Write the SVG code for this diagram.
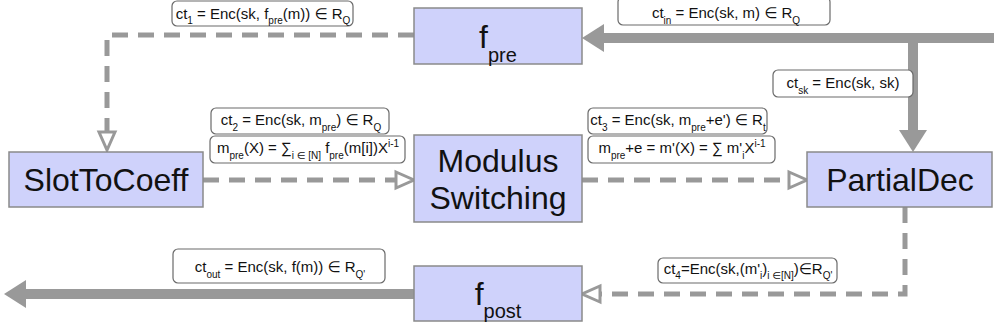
<svg xmlns="http://www.w3.org/2000/svg" width="994" height="332" viewBox="0 0 994 332">
<style>
.node{fill:#cfd2fb;stroke:#8a8a8a;stroke-width:1.5}
.nt{font-family:"Liberation Sans",Arial,sans-serif;font-size:32px;fill:#111;text-anchor:middle}
.lb{fill:#fff;stroke:#6a6a6a;stroke-width:1.2}
.lt{font-family:"Liberation Sans",Arial,"DejaVu Sans",sans-serif;font-size:15px;fill:#111;text-anchor:middle}
.sub{font-size:10px}
.dash{fill:none;stroke:#999;stroke-width:5;stroke-dasharray:16 10}
.thick{fill:none;stroke:#999;stroke-width:10}
</style>
<defs>
<marker id="hollow" markerUnits="userSpaceOnUse" markerWidth="26" markerHeight="26" viewBox="0 0 26 26" refX="2" refY="13" orient="auto">
<path d="M2,5 L20,13 L2,21 Z" fill="#fff" stroke="#999" stroke-width="3" stroke-linejoin="miter"/>
</marker>
<marker id="solid" markerUnits="userSpaceOnUse" markerWidth="24" markerHeight="30" viewBox="0 0 24 30" refX="0" refY="15" orient="auto">
<path d="M0,1 L22,15 L0,29 Z" fill="#999"/>
</marker>
</defs>

<g id="connectors">
<path class="thick" d="M994,38 H604" marker-end="url(#solid)"/>
<path class="thick" d="M913,38 V130" marker-end="url(#solid)"/>
<path class="thick" d="M414,294 H26" marker-end="url(#solid)"/>
<path class="dash" d="M414,35 H107 V132" marker-end="url(#hollow)"/>
<path class="dash" d="M203,180 H396" marker-end="url(#hollow)"/>
<path class="dash" d="M582,180 H789" marker-end="url(#hollow)"/>
<path class="dash" d="M905,207 V294 H600" marker-end="url(#hollow)"/>
</g>

<g id="fpre">
<rect class="node" x="414" y="8" width="168" height="56"/>
<text class="nt" x="498" y="48"><tspan font-size="32">f</tspan><tspan font-size="20" dy="14">pre</tspan></text>
</g>
<g id="slottocoeff">
<rect class="node" x="9" y="152" width="194" height="55"/>
<text class="nt" x="106" y="191">SlotToCoeff</text>
</g>
<g id="modswitch">
<rect class="node" x="414" y="135" width="168" height="87"/>
<text class="nt" x="498" y="172">Modulus</text>
<text class="nt" x="498" y="209">Switching</text>
</g>
<g id="partialdec">
<rect class="node" x="807" y="152" width="185" height="55"/>
<text class="nt" x="900" y="191">PartialDec</text>
</g>
<g id="fpost">
<rect class="node" x="414" y="266" width="168" height="55"/>
<text class="nt" x="498" y="305"><tspan font-size="32">f</tspan><tspan font-size="20" dy="13">post</tspan></text>
</g>

<g id="label-ct1">
<rect class="lb" x="172" y="1" width="181" height="25" rx="5"/>
<text class="lt" x="263" y="19" font-size="14">ct<tspan class="sub" dy="5">1</tspan><tspan dy="-5"> = Enc(sk, f</tspan><tspan class="sub" dy="5">pre</tspan><tspan dy="-5">(m)) ∈ R</tspan><tspan class="sub" dy="5">Q</tspan></text>
</g>
<g id="label-ctin">
<rect class="lb" x="618" y="-3" width="212" height="28" rx="5"/>
<text class="lt" x="726" y="18">ct<tspan class="sub" dy="6">in</tspan><tspan dy="-6"> = Enc(sk, m) ∈ R</tspan><tspan class="sub" dy="6">Q</tspan></text>
</g>
<g id="label-ctsk">
<rect class="lb" x="773" y="70" width="140" height="27" rx="5"/>
<text class="lt" x="843" y="88" font-size="17">ct<tspan class="sub" font-size="11" dy="6">sk</tspan><tspan dy="-6"> = Enc(sk, sk)</tspan></text>
</g>
<g id="label-ct2">
<rect class="lb" x="211" y="108" width="178" height="26" rx="5"/>
<text class="lt" x="301" y="125">ct<tspan class="sub" dy="6">2</tspan><tspan dy="-6"> = Enc(sk, m</tspan><tspan class="sub" dy="6">pre</tspan><tspan dy="-6">) ∈ R</tspan><tspan class="sub" dy="6">Q</tspan></text>
</g>
<g id="label-mpre">
<rect class="lb" x="210" y="136" width="195" height="27" rx="5"/>
<text class="lt" x="308" y="153">m<tspan class="sub" dy="6">pre</tspan><tspan dy="-6">(X) = ∑</tspan><tspan class="sub" dy="6">i ∈ [N]</tspan><tspan dy="-6"> f</tspan><tspan class="sub" dy="6">pre</tspan><tspan dy="-6">(m[i])X</tspan><tspan class="sub" dy="-6">i-1</tspan></text>
</g>
<g id="label-ct3">
<rect class="lb" x="588" y="108" width="179" height="26" rx="5"/>
<text class="lt" x="678" y="125">ct<tspan class="sub" dy="6">3</tspan><tspan dy="-6"> = Enc(sk, m</tspan><tspan class="sub" dy="6">pre</tspan><tspan dy="-6">+e') ∈ R</tspan><tspan class="sub" dy="6">t</tspan></text>
</g>
<g id="label-mpree">
<rect class="lb" x="588" y="136" width="187" height="27" rx="5"/>
<text class="lt" x="682" y="153">m<tspan class="sub" dy="6">pre</tspan><tspan dy="-6">+e = m'(X) = ∑ m'</tspan><tspan class="sub" dy="6">i</tspan><tspan dy="-6">X</tspan><tspan class="sub" dy="-6">i-1</tspan></text>
</g>
<g id="label-ctout">
<rect class="lb" x="173" y="249" width="212" height="34" rx="5"/>
<text class="lt" x="280" y="272" font-size="16">ct<tspan class="sub" dy="6">out</tspan><tspan dy="-6"> = Enc(sk, f(m)) ∈ R</tspan><tspan class="sub" dy="6">Q'</tspan></text>
</g>
<g id="label-ct4">
<rect class="lb" x="658" y="258" width="179" height="25" rx="5"/>
<text class="lt" x="748" y="274" font-size="14">ct<tspan class="sub" dy="5">4</tspan><tspan dy="-5">=Enc(sk,(m'</tspan><tspan class="sub" dy="5">i</tspan><tspan dy="-5">)</tspan><tspan class="sub" dy="5">i ∈[N]</tspan><tspan dy="-5">)∈R</tspan><tspan class="sub" dy="5">Q'</tspan></text>
</g>
</svg>
